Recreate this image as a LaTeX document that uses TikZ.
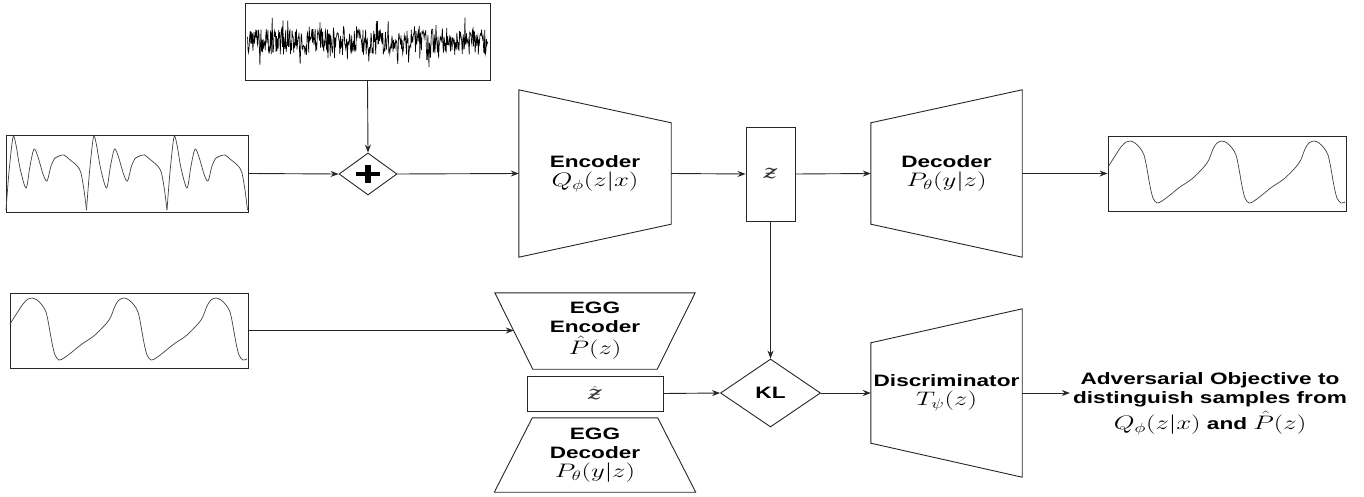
\documentclass[tikz,border=0pt]{standalone}
\usepackage[no-math]{fontspec}
\usepackage{graphicx}
\setmainfont{Liberation Sans}
\newfontfamily\dvs{DejaVu Serif}
\usetikzlibrary{shapes.geometric,arrows.meta,calc}

\newcommand\sx[1]{\scalebox{1.37}[1]{#1}}
\newcommand\mm[1]{\scalebox{1.13}{$#1$}}
\newcommand\mth[1]{\sx{\mm{#1}}}
\newcommand\scz{\hbox{\fontsize{19}{19}\selectfont\dvs\itshape\color{black!80}ƶ}}

\newcommand\ppgper[1]{%
  \draw[sig, shift={(#1,0)}] plot[smooth, tension=0.5] coordinates {(0,210) (3,172) (7,137) (10,145) (14,168) (20,188) (24,166) (28,149) (32,157) (37,174) (41,181) (45,166) (49,158) (53,156) (58,155) (63,159) (68,163) (72,167) (75,173) (78,190) (80.5,210)};}

\newcommand\eggwave[2]{%
  \draw[sig, shift={(#1,#2)}] plot[smooth, tension=0.55] coordinates {(0,26) (7,15) (13,6) (18,1) (22,0) (27,2) (32,7) (36,14) (39,28) (42,45) (45,57) (49,62) (54,60) (62,54) (72,46) (85,37) (99,22) (105,8) (109,2) (114,0) (119,2) (124,7) (128,14) (131,28) (134,45) (137,57) (141,62) (146,60) (154,54) (164,46) (177,37) (191,22) (197,8) (201,2) (206,0) (211,2) (216,7) (220,14) (223,28) (226,45) (229,57) (233,62) (237,61)};}

\begin{document}
\begin{tikzpicture}[x=1pt, y=-1pt,
  blk/.style={draw=black!85, line width=0.9pt},
  box/.style={blk, rectangle, inner sep=0pt},
  lbl/.style={font=\fontsize{16.5}{19}\selectfont\bfseries, align=center, inner sep=0pt},
  arr/.style={draw=black!85, line width=0.9pt, -{Stealth[length=8pt,width=6pt]}},
  sig/.style={line width=0.7pt, black!75},
  dia/.style={blk, diamond, inner sep=0pt}]
\useasboundingbox (0,0) rectangle (1364,497);

% ---------- top row ----------
\node[box, minimum width=245, minimum height=77] (noise) at (367.5,41.5) {};
\node[box, minimum width=242, minimum height=77] (inp) at (127,173.5) {};
\node[dia, minimum width=58, minimum height=42] (plus) at (368,174) {};
\draw[line width=4.6pt, black] ([xshift=-12pt]plus.center) -- ([xshift=12pt]plus.center);
\draw[line width=5.2pt, black] ([yshift=9pt]plus.center) -- ([yshift=-9pt]plus.center);

\node[lbl, minimum width=152, minimum height=167] (enc) at (595,173.5)
  {\sx{Encoder}\\\mth{Q_\phi(z|x)}};
\draw[blk] (enc.north west) -- ([yshift=-33pt]enc.north east) -- ([yshift=33pt]enc.south east) -- (enc.south west) -- cycle;

\node[box, minimum width=49, minimum height=94] (z) at (770.5,174) {\sx{\scz}};

\node[lbl, minimum width=151, minimum height=167] (dec) at (946.5,173.5)
  {\sx{Decoder}\\\mth{P_\theta(y|z)}};
\draw[blk] ([yshift=-33pt]dec.north west) -- (dec.north east) -- (dec.south east) -- ([yshift=33pt]dec.south west) -- cycle;

\node[box, minimum width=238, minimum height=75] (out) at (1227,173.5) {};

% ---------- bottom row ----------
\node[box, minimum width=238, minimum height=75] (egg) at (129,330.5) {};

\node[lbl, minimum width=200, minimum height=76] (egge) at (595,331)
  {\sx{EGG}\\\sx{Encoder}\\[3pt]\mth{\hat{P}(z)}};
\draw[blk] (egge.north west) -- (egge.north east) -- ([xshift=-38pt]egge.south east) -- ([xshift=38pt]egge.south west) -- cycle;
\coordinate (eggeL) at ($(egge.north west)!0.5!([xshift=38pt]egge.south west)$);

\node[box, minimum width=136, minimum height=35] (zh) at (595,393.5) {\sx{$\hat{\scz}$}};

\node[lbl, minimum width=201, minimum height=74] (eggd) at (595,455)
  {\sx{EGG}\\\sx{Decoder}\\\mth{P_\theta(y|z)}};
\draw[blk] ([xshift=38pt]eggd.north west) -- ([xshift=-38pt]eggd.north east) -- (eggd.south east) -- (eggd.south west) -- cycle;

\node[dia, minimum width=100, minimum height=68, font=\fontsize{16.5}{19}\selectfont\bfseries] (kl) at (770.5,393) {\sx{KL}};

\node[lbl, minimum width=151, minimum height=168] (disc) at (946.5,393)
  {\sx{Discriminator}\\\mth{T_\psi(z)}};
\draw[blk] ([yshift=-34pt]disc.north west) -- (disc.north east) -- (disc.south east) -- ([yshift=34pt]disc.south west) -- cycle;

\node[lbl, inner sep=3pt] (adv) at (1210,404)
  {\sx{Adversarial Objective to}\\\sx{distinguish samples from}\\[3pt]\sx{\mm{Q_\phi(z|x)} and \mm{\hat{P}(z)}}};

% ---------- waveforms ----------
\begin{scope}
  \clip (noise.south west) rectangle (noise.north east);
  \pgfmathsetseed{11}
  \draw[line width=0.65pt, black] plot[domain=247:488, samples=450] (\x,{42+13*rand+(abs(rand)>0.75)*15*rand});
\end{scope}
\begin{scope}
  \clip (inp.south west) rectangle (inp.north east);
  \ppgper{6}\ppgper{86.5}\ppgper{167}
\end{scope}
\begin{scope}
  \clip (out.south west) rectangle (out.north east);
  \eggwave{1108}{141}
\end{scope}
\begin{scope}
  \clip (egg.south west) rectangle (egg.north east);
  \eggwave{10}{298}
\end{scope}

% ---------- connectors ----------
\draw[arr] (noise.south) -- (plus.north);
\draw[arr] (inp.east) -- (plus.west);
\draw[arr] (plus.east) -- (enc.west);
\draw[arr] (enc.east) -- (z.west);
\draw[arr] (z.east) -- (dec.west);
\draw[arr] (dec.east) -- (out.west);
\draw[arr] (egg.east) -- (egg.east -| eggeL);
\draw[arr] (zh.east) -- (kl.west);
\draw[arr] (z.south) -- (kl.north);
\draw[arr] (kl.east) -- (disc.west);
\draw[arr] (disc.east) -- (disc.east -| adv.west);
\end{tikzpicture}
\end{document}
